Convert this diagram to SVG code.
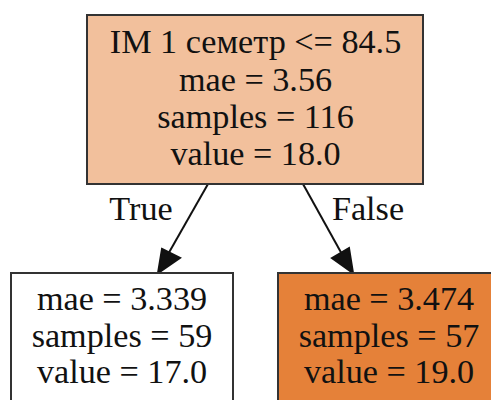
<svg xmlns="http://www.w3.org/2000/svg" width="491" height="400" viewBox="0 0 491 400">
<defs>
<style>
.box{stroke:#333;stroke-width:2}
text{font-family:"Liberation Serif","Times New Roman",serif;font-size:34.2px;fill:#111;text-anchor:middle}
.edge{stroke:#111;stroke-width:2;fill:none}
.head{fill:#111;stroke:#111;stroke-width:2}
</style>
</defs>
<rect width="491" height="400" fill="#fff"/>
<g id="connectors">
<line class="edge" x1="208" y1="184" x2="167" y2="256"/>
<polygon class="head" points="162,249 180,258 158,273"/>
<text x="141" y="220">True</text>
<line class="edge" x1="303" y1="184" x2="343" y2="256"/>
<polygon class="head" points="332,258 349,248 353,273"/>
<text x="368" y="220">False</text>
</g>
<g id="node0">
<rect class="box" x="87" y="15" width="336" height="169" fill="#f2c09c"/>
<text x="255.5" y="53">IM 1 семетр &lt;= 84.5</text>
<text x="255.5" y="91">mae = 3.56</text>
<text x="255.5" y="128">samples = 116</text>
<text x="255.5" y="165">value = 18.0</text>
</g>
<g id="node1">
<rect class="box" x="11" y="273" width="222" height="150" fill="#ffffff"/>
<text x="122" y="310">mae = 3.339</text>
<text x="122" y="347">samples = 59</text>
<text x="122" y="383">value = 17.0</text>
</g>
<g id="node2">
<rect class="box" x="278" y="273" width="222" height="150" fill="#e58139"/>
<text x="389" y="310">mae = 3.474</text>
<text x="389" y="347">samples = 57</text>
<text x="389" y="383">value = 19.0</text>
</g>
</svg>
